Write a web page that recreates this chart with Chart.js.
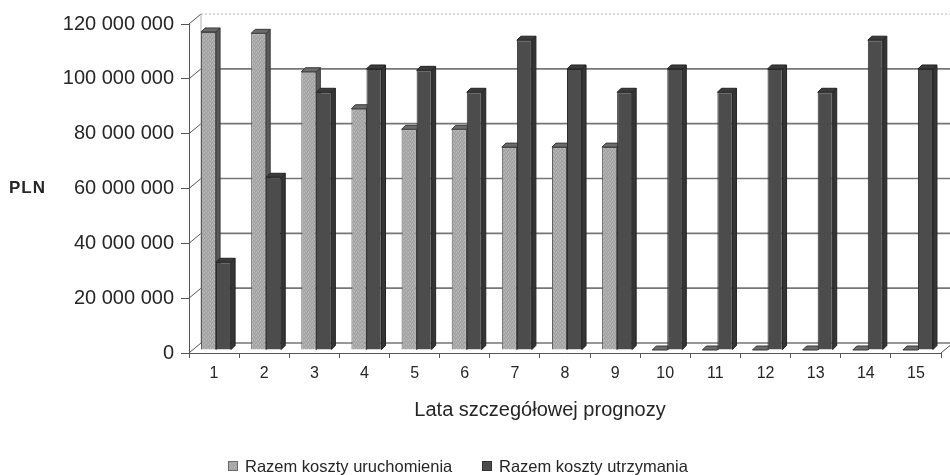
<!DOCTYPE html>
<html>
<head>
<meta charset="utf-8">
<script src="https://cdn.jsdelivr.net/npm/chart.js@4.4.1/dist/chart.umd.min.js"></script>
<style>
  html, body { margin: 0; padding: 0; background: #ffffff; }
  #wrap { width: 950px; height: 475px; }
</style>
</head>
<body>
<div id="wrap"><canvas id="chart" width="950" height="475"></canvas></div>
<script>
// Forecast years on the category axis
const years = ['1', '2', '3', '4', '5', '6', '7', '8', '9', '10', '11', '12', '13', '14', '15'];

// Total start-up costs per year (PLN)
const startupCosts = [116e6, 115.5e6, 101.5e6, 88e6, 80.5e6, 80.5e6, 74e6, 74e6, 74e6, 0, 0, 0, 0, 0, 0];

// Total maintenance costs per year (PLN)
const maintenanceCosts = [32e6, 63e6, 94e6, 102.5e6, 102e6, 94e6, 113e6, 102.5e6, 94e6, 102.5e6, 94e6, 102.5e6, 94e6, 113e6, 102.5e6];

const seriesNames = ['Razem koszty uruchomienia', 'Razem koszty utrzymania'];
const yTicks = [0, 20e6, 40e6, 60e6, 80e6, 100e6, 120e6];
const xTitle = 'Lata szczegółowej prognozy';
const unitLabel = 'PLN';

const FONT = '"Liberation Sans", Arial, Helvetica, sans-serif';
const TEXT = '#262626';
Chart.defaults.font.family = FONT;

const canvas = document.getElementById('chart');
const ctx = canvas.getContext('2d');

// Fine speckled grey fill for the light columns
function speckle(base, dot, dot2) {
  const c = document.createElement('canvas');
  c.width = 4; c.height = 4;
  const g = c.getContext('2d');
  g.fillStyle = base; g.fillRect(0, 0, 4, 4);
  g.fillStyle = dot;
  [[0, 0], [2, 1], [1, 2], [3, 3]].forEach(([x, y]) => g.fillRect(x, y, 1, 1));
  g.fillStyle = dot2;
  [[2, 3], [0, 2]].forEach(([x, y]) => g.fillRect(x, y, 1, 1));
  return ctx.createPattern(c, 'repeat');
}
const lightFill = speckle('#acacac', '#9c9c9c', '#bababa');
const darkFill = '#4c4c4c';

// Perspective offsets: the back wall sits up and to the right of the front axes,
// the column row sits a little behind the front edge.
const WALL = { x: 12, y: -10 };
const ROW = { x: 2, y: -3 };
const DEPTH = 4;

const faceStyles = [
  { side: '#585858', top: '#6a6a6a', edge: '#3a3a3a' },
  { side: '#353535', top: '#3a3a3a', edge: '#242424' }
];

function poly(c, pts) {
  c.beginPath();
  c.moveTo(pts[0][0], pts[0][1]);
  for (let i = 1; i < pts.length; i++) c.lineTo(pts[i][0], pts[i][1]);
  c.closePath();
  c.fill();
  c.stroke();
}

function drawFaces(c, el, k) {
  const { x, y, base, width } = el.getProps(['x', 'y', 'base', 'width'], true);
  const x1 = x - width / 2, x2 = x + width / 2, d = DEPTH;
  const top = Math.min(y, base);
  const st = faceStyles[k];
  c.lineWidth = 1;
  c.strokeStyle = st.edge;
  c.fillStyle = st.side;
  poly(c, [[x2, top], [x2 + d, top - d], [x2 + d, base - d], [x2, base]]);
  c.fillStyle = st.top;
  poly(c, [[x1, top], [x1 + d, top - d], [x2 + d, top - d], [x2, top]]);
}

const box3d = {
  id: 'box3d',
  beforeDatasetsDraw(chart) {
    const { ctx: c, chartArea: a, scales: { y } } = chart;
    const wl = a.left + WALL.x;
    const wr = chart.width;

    c.save();
    // back wall gridlines and the diagonal tick connectors on the side wall
    yTicks.forEach(v => {
      const fy = y.getPixelForValue(v);
      const by = fy + WALL.y;
      c.strokeStyle = '#555555';
      c.lineWidth = 1;
      c.beginPath(); c.moveTo(a.left, fy); c.lineTo(wl, by); c.stroke();
      if (v === yTicks[yTicks.length - 1]) {
        c.strokeStyle = '#b8b8b8';
        c.setLineDash([2, 2]);
      } else {
        c.strokeStyle = '#767676';
        c.lineWidth = 1.6;
        c.setLineDash([]);
      }
      c.beginPath(); c.moveTo(wl, by); c.lineTo(wr, by); c.stroke();
      c.setLineDash([]);
    });
    // back wall left edge
    c.strokeStyle = '#b0b0b0';
    c.lineWidth = 1;
    c.beginPath();
    c.moveTo(wl, y.getPixelForValue(yTicks[yTicks.length - 1]) + WALL.y);
    c.lineTo(wl, y.getPixelForValue(0) + WALL.y);
    c.stroke();
    // floor right edge
    c.strokeStyle = '#555555';
    c.beginPath();
    c.moveTo(a.right, a.bottom);
    c.lineTo(a.right + WALL.x, a.bottom + WALL.y);
    c.stroke();
    c.restore();

    // columns, painted category by category so nearer faces overlap correctly
    const metas = chart.data.datasets.map((_, i) => chart.getDatasetMeta(i));
    c.save();
    c.translate(ROW.x, ROW.y);
    for (let i = 0; i < years.length; i++) {
      metas.forEach((m, k) => {
        const el = m.data[i];
        el.draw(c, a);
        drawFaces(c, el, k);
      });
    }
    c.restore();
    return false;
  },
  afterDraw(chart) {
    const c = chart.ctx;
    const y = chart.scales.y;
    c.save();
    // unit label
    c.fillStyle = TEXT;
    c.font = 'bold 17px ' + FONT;
    c.letterSpacing = '1px';
    c.textAlign = 'left';
    c.textBaseline = 'middle';
    c.fillText(unitLabel, 9, y.getPixelForValue(60e6));
    c.letterSpacing = '0px';

    // category axis title
    c.font = '20px ' + FONT;
    c.textAlign = 'center';
    c.textBaseline = 'alphabetic';
    c.fillText(xTitle, 540, 416);

    // legend
    c.font = '16.5px ' + FONT;
    c.textAlign = 'left';
    const items = [
      { x: 228, fill: lightFill, stroke: '#6a6a6a' },
      { x: 482, fill: darkFill, stroke: '#333333' }
    ];
    items.forEach((it, k) => {
      c.fillStyle = it.fill;
      c.fillRect(it.x, 461, 10, 10);
      c.strokeStyle = it.stroke;
      c.lineWidth = 1;
      c.strokeRect(it.x + 0.5, 461.5, 9, 9);
      c.fillStyle = TEXT;
      c.fillText(seriesNames[k], it.x + 17, 472);
    });
    c.restore();
  }
};

const fmt = v => String(Math.round(v)).replace(/\B(?=(\d{3})+(?!\d))/g, ' ');

new Chart(ctx, {
  type: 'bar',
  data: {
    labels: years,
    datasets: [
      {
        label: seriesNames[0],
        data: startupCosts,
        backgroundColor: lightFill,
        borderColor: '#585858',
        borderWidth: 1,
        categoryPercentage: 0.6,
        barPercentage: 1.0
      },
      {
        label: seriesNames[1],
        data: maintenanceCosts,
        backgroundColor: darkFill,
        borderColor: '#2c2c2c',
        borderWidth: 1,
        categoryPercentage: 0.6,
        barPercentage: 1.0
      }
    ]
  },
  options: {
    responsive: false,
    animation: false,
    layout: { padding: { left: 0, right: 9, top: 24, bottom: 0 } },
    plugins: {
      legend: { display: false },
      tooltip: { enabled: false }
    },
    scales: {
      x: {
        offset: true,
        grid: { offset: true, drawOnChartArea: false, tickLength: 5, color: '#555555' },
        border: { display: true, color: '#555555', width: 1 },
        ticks: { font: { size: 16 }, color: TEXT, padding: 6, maxRotation: 0, autoSkip: false },
        afterFit(scale) { scale.height = 122; }
      },
      y: {
        min: 0,
        max: 120e6,
        afterBuildTicks(scale) { scale.ticks = yTicks.map(v => ({ value: v })); },
        grid: { drawOnChartArea: false, tickLength: 8, color: '#555555' },
        border: { display: true, color: '#555555', width: 1 },
        ticks: { font: { size: 20 }, color: TEXT, padding: 7, callback: v => fmt(v) },
        afterFit(scale) { scale.width = 189; }
      }
    }
  },
  plugins: [box3d]
});
</script>
</body>
</html>
